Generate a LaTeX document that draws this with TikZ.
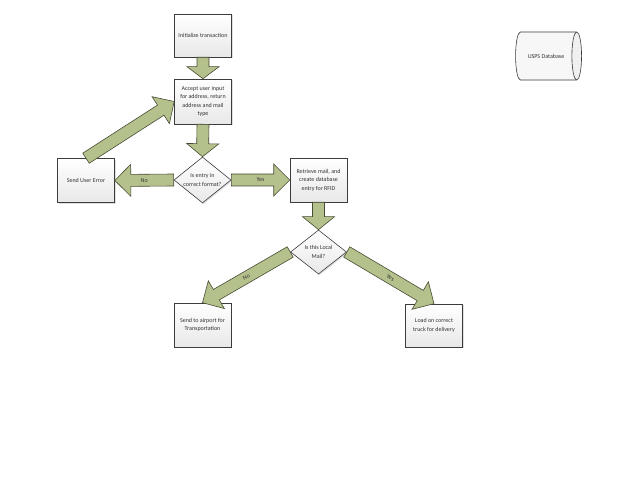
\documentclass[tikz,border=0pt]{standalone}
\usepackage{fontspec}
\setmainfont{Carlito}
\usetikzlibrary{shapes.geometric,calc,shadows}
\definecolor{arrfill}{RGB}{181,193,140}
\definecolor{arrdraw}{RGB}{70,76,52}
\definecolor{boxdraw}{RGB}{60,60,60}
\definecolor{txt}{RGB}{50,50,50}
\newcommand\boxfont{\fontsize{6}{8.5}\selectfont}
\tikzset{
 procbox/.style={draw=boxdraw, line width=0.6pt, top color=white, bottom color=gray!18,
   minimum width=57pt, minimum height=44pt, inner sep=1pt, align=center, font=\boxfont, text=txt,
   drop shadow={shadow xshift=1.2pt, shadow yshift=-1.2pt, opacity=0.25}},
 decbox/.style={diamond, draw=boxdraw, line width=0.6pt, top color=white, bottom color=gray!18,
   minimum width=57pt, minimum height=46pt, inner sep=0pt,
   drop shadow={shadow xshift=1.2pt, shadow yshift=-1.2pt, opacity=0.25}},
 blockarr/.style={draw=arrdraw, fill=arrfill, line width=0.6pt, line join=miter},
 arrlab/.style={font=\boxfont, text=txt, align=center}
}
% #1 head length, #2 name, #3 from node anchor, #4 to node anchor
\newcommand\blockarrow[4][16pt]{%
 \coordinate (#2-c) at ($(#4)!#1!(#3)$);
 \coordinate (#2-m) at ($(#3)!0.5!(#4)$);
 \draw[blockarr] ($(#3)!6pt!90:(#4)$) -- ($(#2-c)!6pt!90:(#4)$) -- ($(#2-c)!16pt!90:(#4)$)
   -- (#4) -- ($(#2-c)!16pt!-90:(#4)$) -- ($(#2-c)!6pt!-90:(#4)$) -- ($(#3)!6pt!-90:(#4)$) -- cycle;
}
\begin{document}
\begin{tikzpicture}[x=1pt,y=-1pt]
\useasboundingbox (0,0) rectangle (638,494);
\node[procbox, minimum height=43pt] (init) at (203,35.5) {Initialize transaction};
\node[procbox, minimum height=45pt] (accept) at (203,101.5) {Accept user input\\for address, return\\address and mail\\type};
\node[decbox, label={[arrlab]center:Is entry in\\correct format?}] (d1) at (202.5,180) {};
\node[procbox] (err) at (86,180.5) {Send User Error};
\node[procbox] (retr) at (318.5,180) {Retrieve mail, and\\create database\\entry for RFID};
\node[decbox, minimum width=56pt, minimum height=44pt, label={[arrlab]center:Is this Local\\Mail?}] (d2) at (318.5,252) {};
\node[procbox] (air) at (202.5,325) {Send to airport for\\Transportation};
\node[procbox, minimum height=43pt] (truck) at (434,325.5) {Load on correct\\truck for delivery};
\node[cylinder, draw=boxdraw, line width=0.6pt, shape aspect=2.3, minimum width=48pt, minimum height=66pt,
  cylinder uses custom fill, cylinder body fill=gray!6, cylinder end fill=gray!12,
  inner sep=0pt, font=\boxfont, text=txt] (db) at (546,56) {USPS Database};
\blockarrow[12pt]{a1}{init.south}{accept.north}
\blockarrow[13pt]{a2}{accept.south}{d1.north}
\blockarrow{a3}{d1.west}{err.east}
\blockarrow{a4}{d1.east}{retr.west}
\blockarrow{a5}{err.north}{accept.west}
\blockarrow[13pt]{a6}{retr.south}{d2.north}
\blockarrow{a7}{d2.west}{air.north}
\blockarrow{a8}{d2.east}{truck.north}
\node[arrlab] (lno1) at (a3-m) {No};
\node[arrlab] (lyes1) at (a4-m) {Yes};
\node[arrlab, rotate=29] (lno2) at (a7-m) {No};
\node[arrlab, rotate=-29] (lyes2) at (a8-m) {Yes};
\end{tikzpicture}
\end{document}
